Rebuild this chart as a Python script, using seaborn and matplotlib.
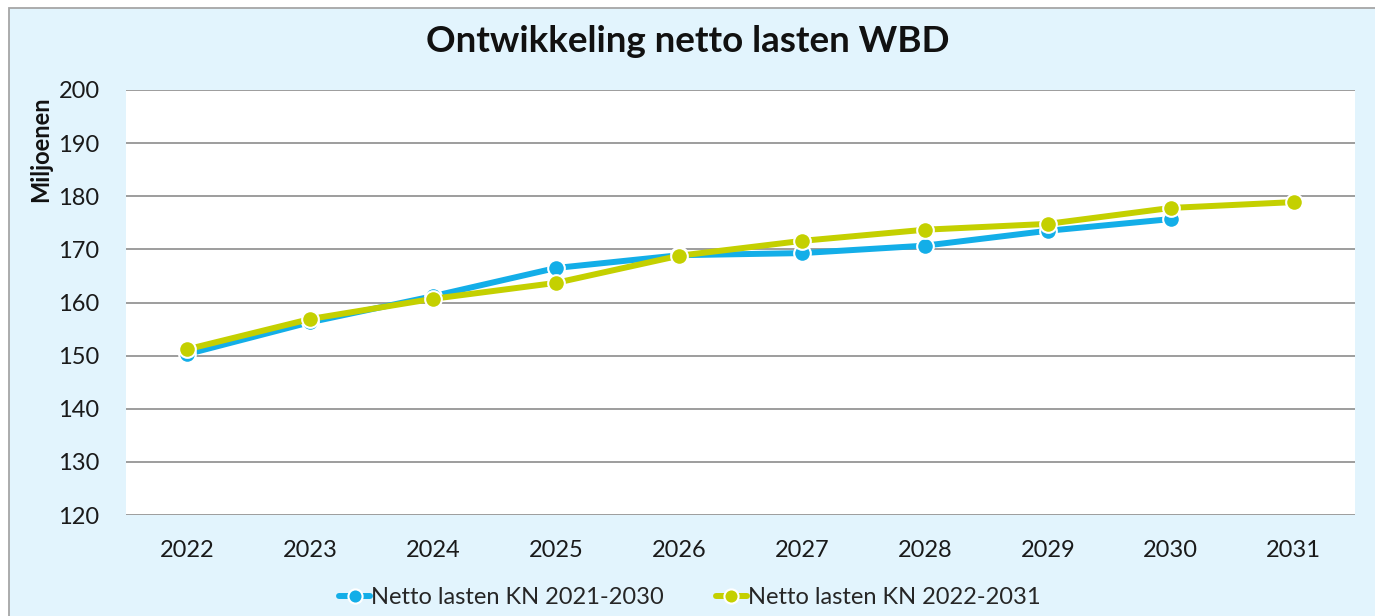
#!/usr/bin/env python3
# -*- coding: utf-8 -*-
"""Ontwikkeling netto lasten WBD - lijngrafiek met twee kadernota's."""

import pandas as pd
import matplotlib.pyplot as plt
import matplotlib.patches as mpatches
import seaborn as sns

# data (miljoenen)
jaren_oud = [2022, 2023, 2024, 2025, 2026, 2027, 2028, 2029, 2030]
lasten_oud = [150.3, 156.3, 161.2, 166.5, 168.9, 169.3, 170.7, 173.5, 175.7]
jaren_nieuw = [2022, 2023, 2024, 2025, 2026, 2027, 2028, 2029, 2030, 2031]
lasten_nieuw = [151.2, 156.9, 160.7, 163.7, 168.8, 171.6, 173.7, 174.8, 177.8, 178.9]
reeks_oud = "Netto lasten KN 2021-2030"
reeks_nieuw = "Netto lasten KN 2022-2031"
y_ticks = [120, 130, 140, 150, 160, 170, 180, 190, 200]

df = pd.concat([
    pd.DataFrame({"Jaar": jaren_oud, "Lasten": lasten_oud, "Reeks": reeks_oud}),
    pd.DataFrame({"Jaar": jaren_nieuw, "Lasten": lasten_nieuw, "Reeks": reeks_nieuw}),
])

sns.set_theme(style="white")
plt.rcParams["font.family"] = ["Lato", "DejaVu Sans"]

kleuren = {reeks_oud: "#13aee8", reeks_nieuw: "#c4d000"}
achtergrond = "#e2f4fd"

fig = plt.figure(figsize=(13.75, 6.16), dpi=100, facecolor="white")
kader = mpatches.Rectangle((9 / 1375, -0.2), 1.2, 0.987 + 0.2,
                           transform=fig.transFigure, facecolor=achtergrond,
                           edgecolor="#a6a6a6", linewidth=1.3, zorder=-10)
fig.patches.append(kader)

ax = fig.add_axes([126 / 1375, 1 - 515 / 616, (1355 - 126) / 1375, (515 - 90) / 616])
ax.set_facecolor("white")

sns.lineplot(
    data=df, x="Jaar", y="Lasten", hue="Reeks", palette=kleuren,
    marker="o", markersize=12, markeredgecolor="white", markeredgewidth=1.5,
    linewidth=4.3, ax=ax
)

ax.set_xlim(2021.5, 2031.5)
ax.set_ylim(120, 200)
ax.set_xticks(jaren_nieuw)
ax.set_xticklabels([str(j) for j in jaren_nieuw])
ax.set_yticks(y_ticks)
ax.grid(axis="y", color="#8c8c8c", linewidth=1.2)
ax.set_axisbelow(True)
for s in ax.spines.values():
    s.set_visible(False)
ax.tick_params(axis="both", length=0, labelsize=17, colors="#1a1a1a")
ax.tick_params(axis="y", pad=19)
ax.tick_params(axis="x", pad=18)
ax.set_xlabel("")
ax.set_ylabel("")

fig.text(688 / 1375, 1 - 42 / 616, "Ontwikkeling netto lasten WBD",
         ha="center", va="center", fontsize=26.5, fontweight="bold", color="#111111")
fig.text(41 / 1375, 1 - 149 / 616, "Miljoenen", rotation=90,
         ha="center", va="center", fontsize=17, fontweight="bold", color="#111111")

handles, labels = ax.get_legend_handles_labels()
ax.get_legend().remove()
fig.legend(handles, labels, loc="center", bbox_to_anchor=(690 / 1375, 1 - 598 / 616),
           ncol=2, frameon=False, fontsize=17, handlelength=1.3, handletextpad=0.05,
           columnspacing=2.2, markerscale=0.85)

fig.savefig("out.png", dpi=100, facecolor=fig.get_facecolor())
